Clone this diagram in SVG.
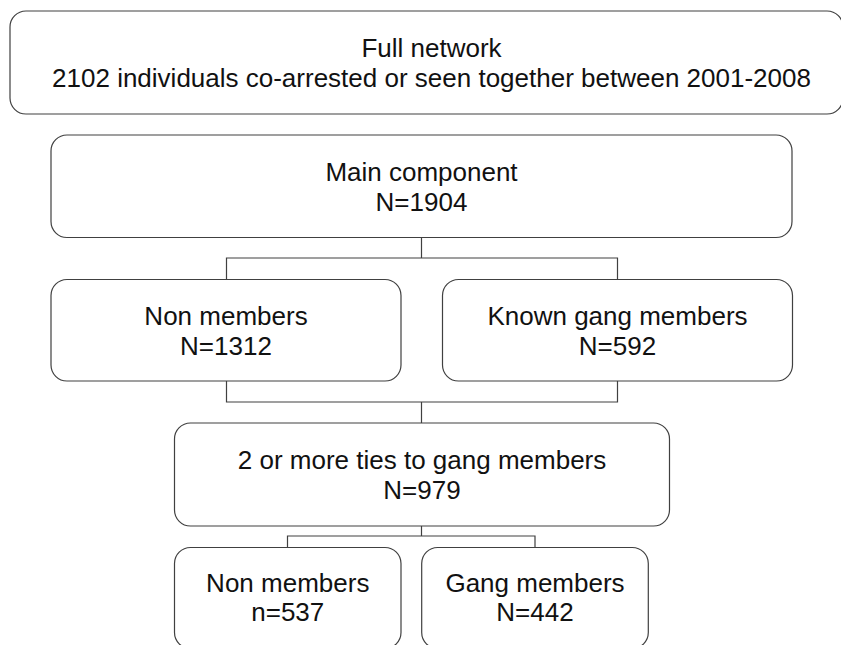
<svg xmlns="http://www.w3.org/2000/svg" width="841" height="645" viewBox="0 0 841 645">
<style>
.box{fill:#ffffff;stroke:#404040;stroke-width:1.2}
.conn{fill:none;stroke:#404040;stroke-width:1.2}
text{font-family:"Liberation Sans",Arial,sans-serif;font-size:26px;fill:#111111;text-anchor:middle}
</style>
<rect width="841" height="645" fill="#ffffff"/>
<g id="connectors">
<path class="conn" d="M421.5,237.5 V258 M226.5,279.5 V258 H617.5 V279.5"/>
<path class="conn" d="M226.5,381 V402 H617.5 V381 M421.5,402 V423"/>
<path class="conn" d="M421.5,526 V536 M287.5,547.5 V536 H535 V547.5"/>
</g>
<g id="full-network">
<rect class="box" x="10" y="11" width="833" height="103" rx="16"/>
<text x="431.5" y="57">Full network</text>
<text x="431.5" y="87">2102 individuals co-arrested or seen together between 2001-2008</text>
</g>
<g id="main-component">
<rect class="box" x="51" y="135" width="741" height="102.5" rx="16"/>
<text x="421.5" y="180.5">Main component</text>
<text x="421.5" y="210.5">N=1904</text>
</g>
<g id="non-members-1">
<rect class="box" x="51" y="279.5" width="350" height="101.5" rx="16"/>
<text x="226" y="324.5">Non members</text>
<text x="226" y="354.5">N=1312</text>
</g>
<g id="known-gang-members">
<rect class="box" x="442.5" y="279.5" width="350" height="101.5" rx="16"/>
<text x="617.5" y="324.5">Known gang members</text>
<text x="617.5" y="354.5">N=592</text>
</g>
<g id="two-or-more-ties">
<rect class="box" x="174.5" y="423" width="495" height="103" rx="16"/>
<text x="422" y="469">2 or more ties to gang members</text>
<text x="422" y="499">N=979</text>
</g>
<g id="non-members-2">
<rect class="box" x="174.5" y="547.5" width="226.5" height="101" rx="16"/>
<text x="287.75" y="592">Non members</text>
<text x="287.75" y="621">n=537</text>
</g>
<g id="gang-members">
<rect class="box" x="421.7" y="547.5" width="226.6" height="101" rx="16"/>
<text x="535" y="592">Gang members</text>
<text x="535" y="621">N=442</text>
</g>
</svg>
